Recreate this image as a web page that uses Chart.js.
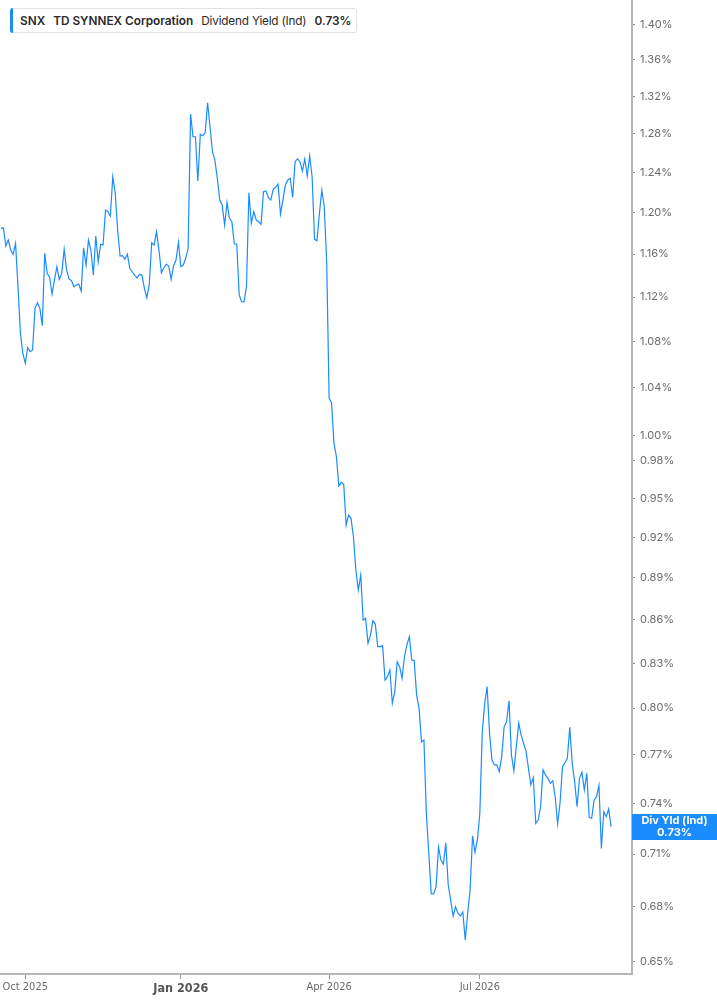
<!DOCTYPE html>
<html>
<head>
<meta charset="utf-8">
<script src="https://cdn.jsdelivr.net/npm/chart.js@4.4.1/dist/chart.umd.min.js"></script>
<style>
html,body{margin:0;padding:0;background:#fff;}
#wrap{position:relative;width:717px;height:1005px;overflow:hidden;}
canvas{display:block;}
#legend{position:absolute;left:10px;top:8px;height:25px;width:347px;box-sizing:border-box;border:1px solid #e2e2e2;border-radius:3px;background:#fff;font-family:Inter,'Noto Sans',sans-serif;font-size:11.8px;color:#2a2a2a;display:flex;align-items:center;white-space:nowrap;padding-left:9px;}
#legend .bar{position:absolute;left:-1px;top:-1px;bottom:-1px;width:3px;background:#1a8cff;border-radius:3px 0 0 3px;}
#legend b{font-weight:600;}
#legend .gap{display:inline-block;width:8px;}
#legend .n{letter-spacing:-0.2px;}
#lastLabel{position:absolute;left:632px;width:85px;height:26px;background:#1a8cff;color:#fff;font-family:Inter,'Noto Sans',sans-serif;font-size:11px;font-weight:700;line-height:11.5px;text-align:center;display:flex;flex-direction:column;justify-content:center;}
</style>
</head>
<body>
<div id="wrap">
  <canvas id="c" width="717" height="1005"></canvas>
  <div id="legend"><span class="bar"></span><b>SNX</b><span class="gap"></span><b>TD SYNNEX Corporation</b><span class="gap"></span><span class="n">Dividend Yield (Ind)</span><span class="gap"></span><b>0.73%</b></div>
  <div id="lastLabel"><span>Div Yld (Ind)</span><span id="lastVal">0.73%</span></div>
</div>
<script>
// ---- data ----
const startDate = '2025-09-17';
const marketHolidays = ['2025-11-27','2025-12-25','2026-01-01','2026-01-19','2026-02-16','2026-04-03','2026-05-25','2026-06-19','2026-07-03','2026-09-07'];
const divYield = [
1.1848,1.1853,1.1678,1.1735,1.1639,1.1599,1.1703,1.1295,1.0875,1.0696,
1.0609,1.0745,1.0710,1.0725,1.1097,1.1148,1.1097,1.0941,1.1608,1.1419,
1.1383,1.1228,1.1357,1.1481,1.1363,1.1419,1.1646,1.1450,1.1367,1.1351,
1.1295,1.1311,1.1320,1.1255,1.1661,1.1497,1.1735,1.1639,1.1403,1.1774,
1.1528,1.1694,1.1687,1.2026,1.2010,1.1968,1.2359,1.2195,1.1832,1.1582,
1.1585,1.1551,1.1599,1.1466,1.1434,1.1403,1.1376,1.1410,1.1403,1.1280,
1.1194,1.1311,1.1709,1.1687,1.1815,1.1639,1.1425,1.1472,1.1506,1.1488,
1.1363,1.1488,1.1544,1.1713,1.1481,1.1497,1.1561,1.1656,1.3010,1.2770,
1.2770,1.2316,1.2795,1.2780,1.2812,1.3130,1.2875,1.2614,1.2528,1.2343,
1.2125,1.2076,1.1880,1.2099,1.1945,1.1912,1.1697,1.1697,1.1219,1.1157,
1.1157,1.1295,1.2198,1.1896,1.2010,1.1929,1.1912,1.1886,1.2208,1.2215,
1.2152,1.2125,1.2232,1.2252,1.2285,1.1988,1.2125,1.2275,1.2326,1.2343,
1.2152,1.2512,1.2540,1.2512,1.2417,1.2540,1.2366,1.2570,1.2359,1.1742,
1.1728,1.1994,1.2225,1.2059,1.1526,1.0309,1.0272,0.9936,0.9828,0.9595,
0.9624,0.9611,0.9294,0.9370,0.9345,0.9205,0.8958,0.8812,0.8921,0.8598,
0.8610,0.8437,0.8493,0.8593,0.8570,0.8413,0.8413,0.8420,0.8186,0.8209,
0.8254,0.8032,0.8108,0.8310,0.8276,0.8198,0.8344,0.8425,0.8482,0.8322,
0.8317,0.8086,0.7999,0.7783,0.7794,0.7340,0.7104,0.6872,0.6872,0.6913,
0.7139,0.7065,0.7041,0.7166,0.6922,0.6838,0.6749,0.6800,0.6764,0.6749,
0.6771,0.6618,0.6764,0.6894,0.7206,0.7110,0.7182,0.7340,0.7848,0.8032,
0.8142,0.7837,0.7668,0.7637,0.7637,0.7595,0.7689,0.7879,0.7912,0.8049,
0.7699,0.7601,0.7751,0.7902,0.7826,0.7773,0.7724,0.7616,0.7513,0.7558,
0.7281,0.7300,0.7380,0.7606,0.7575,0.7554,0.7523,0.7539,0.7441,0.7277,
0.7404,0.7626,0.7651,0.7678,0.7876,0.7647,0.7533,0.7380,0.7554,0.7591,
0.7482,0.7585,0.7317,0.7310,0.7421,0.7441,0.7511,0.7133,0.7350,0.7320,
0.7366,0.7261
];
const xTickLabels = ['Oct 2025','Jan 2026','Apr 2026','Jul 2026'];
const yTickValues = [0.65,0.68,0.71,0.74,0.77,0.80,0.83,0.86,0.89,0.92,0.95,0.98,1.00,1.04,1.08,1.12,1.16,1.20,1.24,1.28,1.32,1.36,1.40];
const seriesName = 'Div Yld (Ind)';

// ---- build trading-day dates ----
const dates = [];
{
  const d = new Date(startDate + 'T00:00:00Z');
  while (dates.length < divYield.length) {
    const iso = d.toISOString().slice(0,10);
    const wd = d.getUTCDay();
    if (wd !== 0 && wd !== 6 && !marketHolidays.includes(iso)) dates.push(iso);
    d.setUTCDate(d.getUTCDate() + 1);
  }
}
const tickIdx = [];
for (let i = 1; i < dates.length; i++) {
  const m = +dates[i].slice(5,7), pm = +dates[i-1].slice(5,7);
  if (m !== pm && [1,4,7,10].includes(m)) tickIdx.push(i);
}
const tickLabelMap = {};
tickIdx.forEach((t, k) => { tickLabelMap[t] = xTickLabels[k]; });
const yearStartIdx = tickIdx.filter(t => dates[t].slice(5,7) === '01');

const points = divYield.map((v, i) => ({x: i, y: v}));

const lastLabelPlugin = {
  id: 'lastLabel',
  afterRender(chart) {
    const y = chart.scales.y.getPixelForValue(divYield[divYield.length - 1]);
    const el = document.getElementById('lastLabel');
    el.style.top = (y - 13) + 'px';
    el.style.left = chart.chartArea.right + 'px';
    document.getElementById('lastVal').textContent = divYield[divYield.length - 1].toFixed(2) + '%';
  }
};

new Chart(document.getElementById('c'), {
  type: 'line',
  data: {
    datasets: [{
      label: seriesName,
      data: points,
      borderColor: '#1a8cff',
      borderWidth: 1.2,
      pointRadius: 0,
      tension: 0,
      fill: false
    }]
  },
  options: {
    responsive: false,
    animation: false,
    devicePixelRatio: 1,
    layout: {padding: 0},
    plugins: {legend: {display: false}, tooltip: {enabled: false}},
    scales: {
      x: {
        type: 'linear',
        min: -0.4,
        max: 259.6,
        afterBuildTicks: s => { s.ticks = tickIdx.map(v => ({value: v})); },
        afterFit: s => { s.height = 31; s.paddingLeft = 0; s.paddingRight = 0; },
        grid: {display: true, drawOnChartArea: false, drawTicks: true, tickLength: 5, color: '#999', lineWidth: 1},
        border: {display: true, color: '#b5b5b5', width: 2},
        ticks: {
          autoSkip: false, maxRotation: 0, padding: 2,
          color: ctx => yearStartIdx.includes(ctx.tick && ctx.tick.value) ? '#555' : '#6b6b6b',
          font: ctx => yearStartIdx.includes(ctx.tick && ctx.tick.value)
            ? {family: "'DejaVu Sans Condensed','DejaVu Sans',sans-serif", size: 12.5, weight: 'bold'}
            : {family: "'DejaVu Sans Condensed','DejaVu Sans',sans-serif", size: 11, weight: 'normal'},
          callback: v => tickLabelMap[v] || ''
        }
      },
      y: {
        type: 'logarithmic',
        position: 'right',
        min: 0.6436,
        max: 1.4282,
        afterBuildTicks: s => { s.ticks = yTickValues.map(v => ({value: v})); },
        afterFit: s => { s.width = 85; s.paddingTop = 0; s.paddingBottom = 0; },
        grid: {display: true, drawOnChartArea: false, drawTicks: true, tickLength: 3, color: '#888', lineWidth: 1},
        border: {display: true, color: '#b5b5b5', width: 2},
        ticks: {
          autoSkip: false, padding: 5, color: '#6b6b6b',
          font: {family: "Inter,'Noto Sans',sans-serif", size: 11},
          callback: v => Number(v).toFixed(2) + '%'
        }
      }
    }
  },
  plugins: [lastLabelPlugin]
});
</script>
</body>
</html>
